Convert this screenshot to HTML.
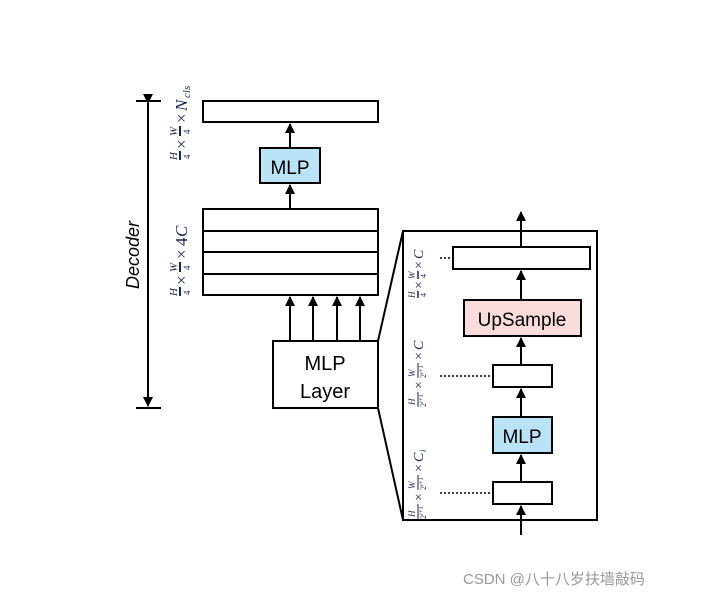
<!DOCTYPE html>
<html><head><meta charset="utf-8"><style>
html,body{margin:0;padding:0;background:#fff;}
svg{display:block;}
.m{font-family:"Liberation Serif",serif;font-style:italic;fill:#1b2550;}
.d{font-family:"Liberation Serif",serif;fill:#1b2550;}
.s{font-family:"Liberation Sans",sans-serif;fill:#000;}
</style></head><body>
<svg width="710" height="598" viewBox="0 0 710 598" xmlns="http://www.w3.org/2000/svg">
<defs>
<marker id="a" viewBox="0 0 10 10" refX="9" refY="5" markerWidth="5" markerHeight="5" orient="auto"><path d="M0,0 L10,5 L0,10 z" fill="#000"/></marker>
</defs>
<g stroke="#000" stroke-width="2" fill="none">
<!-- Decoder bar -->
<line x1="136" y1="101" x2="161" y2="101"/>
<line x1="136" y1="408" x2="161" y2="408"/>
<line x1="148" y1="103" x2="148" y2="406" marker-start="url(#a)" marker-end="url(#a)"/>
<!-- top box -->
<rect x="203" y="101" width="175" height="21" fill="#fff"/>
<rect x="260" y="148" width="60" height="35" fill="#b9e3f6"/>
<line x1="290" y1="148" x2="290" y2="124" marker-end="url(#a)"/>
<line x1="290" y1="209" x2="290" y2="185" marker-end="url(#a)"/>
<rect x="203" y="209" width="175" height="86" fill="#fff"/>
<line x1="203" y1="231" x2="378" y2="231"/>
<line x1="203" y1="252" x2="378" y2="252"/>
<line x1="203" y1="274" x2="378" y2="274"/>
<line x1="290" y1="341" x2="290" y2="297" marker-end="url(#a)"/>
<line x1="313" y1="341" x2="313" y2="297" marker-end="url(#a)"/>
<line x1="337" y1="341" x2="337" y2="297" marker-end="url(#a)"/>
<line x1="360" y1="341" x2="360" y2="297" marker-end="url(#a)"/>
<rect x="273" y="341" width="105" height="67" fill="#fff"/>
<!-- zoom lines -->
<line x1="378" y1="341" x2="403" y2="231"/>
<line x1="378" y1="408" x2="403" y2="520"/>
<rect x="403" y="231" width="194" height="289"/>
<!-- inside -->
<line x1="521" y1="247" x2="521" y2="212" marker-end="url(#a)"/>
<rect x="453" y="247" width="137" height="22" fill="#fff"/>
<line x1="521" y1="300" x2="521" y2="271" marker-end="url(#a)"/>
<rect x="464" y="300" width="117" height="36" fill="#fadcdc"/>
<line x1="521" y1="365" x2="521" y2="338" marker-end="url(#a)"/>
<rect x="493" y="365" width="59" height="22" fill="#fff"/>
<line x1="521" y1="417" x2="521" y2="389" marker-end="url(#a)"/>
<rect x="493" y="417" width="59" height="36" fill="#b9e3f6"/>
<line x1="521" y1="482" x2="521" y2="455" marker-end="url(#a)"/>
<rect x="493" y="482" width="59" height="22" fill="#fff"/>
<line x1="521" y1="535" x2="521" y2="506" marker-end="url(#a)"/>
</g>
<g stroke="#000" stroke-width="1.5" stroke-dasharray="2,2">
<line x1="440" y1="258" x2="452" y2="258"/>
<line x1="440" y1="376" x2="492" y2="376"/>
<line x1="440" y1="493" x2="492" y2="493"/>
</g>
<!-- text -->
<text x="290" y="174" class="s" font-size="19" text-anchor="middle">MLP</text>
<text x="325" y="370" class="s" font-size="20" text-anchor="middle">MLP</text>
<text x="325" y="398" class="s" font-size="20" text-anchor="middle">Layer</text>
<text x="522" y="326" class="s" font-size="19" text-anchor="middle">UpSample</text>
<text x="522" y="443" class="s" font-size="19" text-anchor="middle">MLP</text>
<text class="s" font-size="18" font-style="italic" text-anchor="middle" transform="translate(139,255) rotate(-90)">Decoder</text>

<!-- label top -->
<g transform="translate(167,160) rotate(-90)">
<text x="0" y="10" class="m" font-size="11">H</text><line x1="0" y1="13" x2="9" y2="13" stroke="#1b2550" stroke-width="2"/><text x="1" y="23" class="d" font-size="9">4</text>
<text x="11" y="20" class="d" font-size="17">×</text>
<text x="24" y="10" class="m" font-size="11">W</text><line x1="24" y1="13" x2="34" y2="13" stroke="#1b2550" stroke-width="2"/><text x="26" y="23" class="d" font-size="9">4</text>
<text x="37" y="20" class="d" font-size="17">×</text>
<text x="49" y="20" class="m" font-size="17">N</text><text x="62" y="23" class="m" font-size="11">cls</text>
</g>
<!-- label 4C -->
<g transform="translate(167,296) rotate(-90)">
<text x="0" y="10" class="m" font-size="11">H</text><line x1="0" y1="13" x2="9" y2="13" stroke="#1b2550" stroke-width="2"/><text x="1" y="23" class="d" font-size="9">4</text>
<text x="11" y="20" class="d" font-size="17">×</text>
<text x="24" y="10" class="m" font-size="11">W</text><line x1="24" y1="13" x2="34" y2="13" stroke="#1b2550" stroke-width="2"/><text x="26" y="23" class="d" font-size="9">4</text>
<text x="37" y="20" class="d" font-size="17">×</text>
<text x="50" y="20" class="d" font-size="17">4</text><text x="59" y="20" class="m" font-size="17">C</text>
</g>
<!-- right labels -->
<g transform="translate(406,298) rotate(-90)">
<text x="0" y="9" class="m" font-size="9">H</text><line x1="0" y1="12" x2="7" y2="12" stroke="#1b2550" stroke-width="1.5"/><text x="1" y="20" class="d" font-size="8">4</text>
<text x="9" y="17" class="d" font-size="14">×</text>
<text x="19" y="9" class="m" font-size="9">W</text><line x1="19" y1="12" x2="27" y2="12" stroke="#1b2550" stroke-width="1.5"/><text x="20" y="20" class="d" font-size="8">4</text>
<text x="29" y="17" class="d" font-size="14">×</text>
<text x="39" y="17" class="m" font-size="14">C</text>
</g>
<g transform="translate(406,407) rotate(-90)">
<text x="2" y="9" class="m" font-size="9">H</text><line x1="0" y1="12" x2="15" y2="12" stroke="#1b2550" stroke-width="1"/><text x="0" y="20" class="d" font-size="8">2<tspan class="m" font-size="6" dy="-3">i+1</tspan></text>
<text x="18" y="17" class="d" font-size="14">×</text>
<text x="30" y="9" class="m" font-size="9">W</text><line x1="29" y1="12" x2="44" y2="12" stroke="#1b2550" stroke-width="1"/><text x="29" y="20" class="d" font-size="8">2<tspan class="m" font-size="6" dy="-3">i+1</tspan></text>
<text x="47" y="17" class="d" font-size="14">×</text>
<text x="57" y="17" class="m" font-size="14">C</text>
</g>
<g transform="translate(406,519) rotate(-90)">
<text x="2" y="9" class="m" font-size="9">H</text><line x1="0" y1="12" x2="15" y2="12" stroke="#1b2550" stroke-width="1"/><text x="0" y="20" class="d" font-size="8">2<tspan class="m" font-size="6" dy="-3">i+1</tspan></text>
<text x="18" y="17" class="d" font-size="14">×</text>
<text x="30" y="9" class="m" font-size="9">W</text><line x1="29" y1="12" x2="44" y2="12" stroke="#1b2550" stroke-width="1"/><text x="29" y="20" class="d" font-size="8">2<tspan class="m" font-size="6" dy="-3">i+1</tspan></text>
<text x="47" y="17" class="d" font-size="14">×</text>
<text x="57" y="17" class="m" font-size="14">C</text><text x="67" y="20" class="m" font-size="9">i</text>
</g>
<text x="463" y="584" font-family="'Liberation Sans','Noto Sans CJK SC',sans-serif" font-size="15" fill="#999">CSDN @八十八岁扶墙敲码</text>
</svg>
</body></html>
